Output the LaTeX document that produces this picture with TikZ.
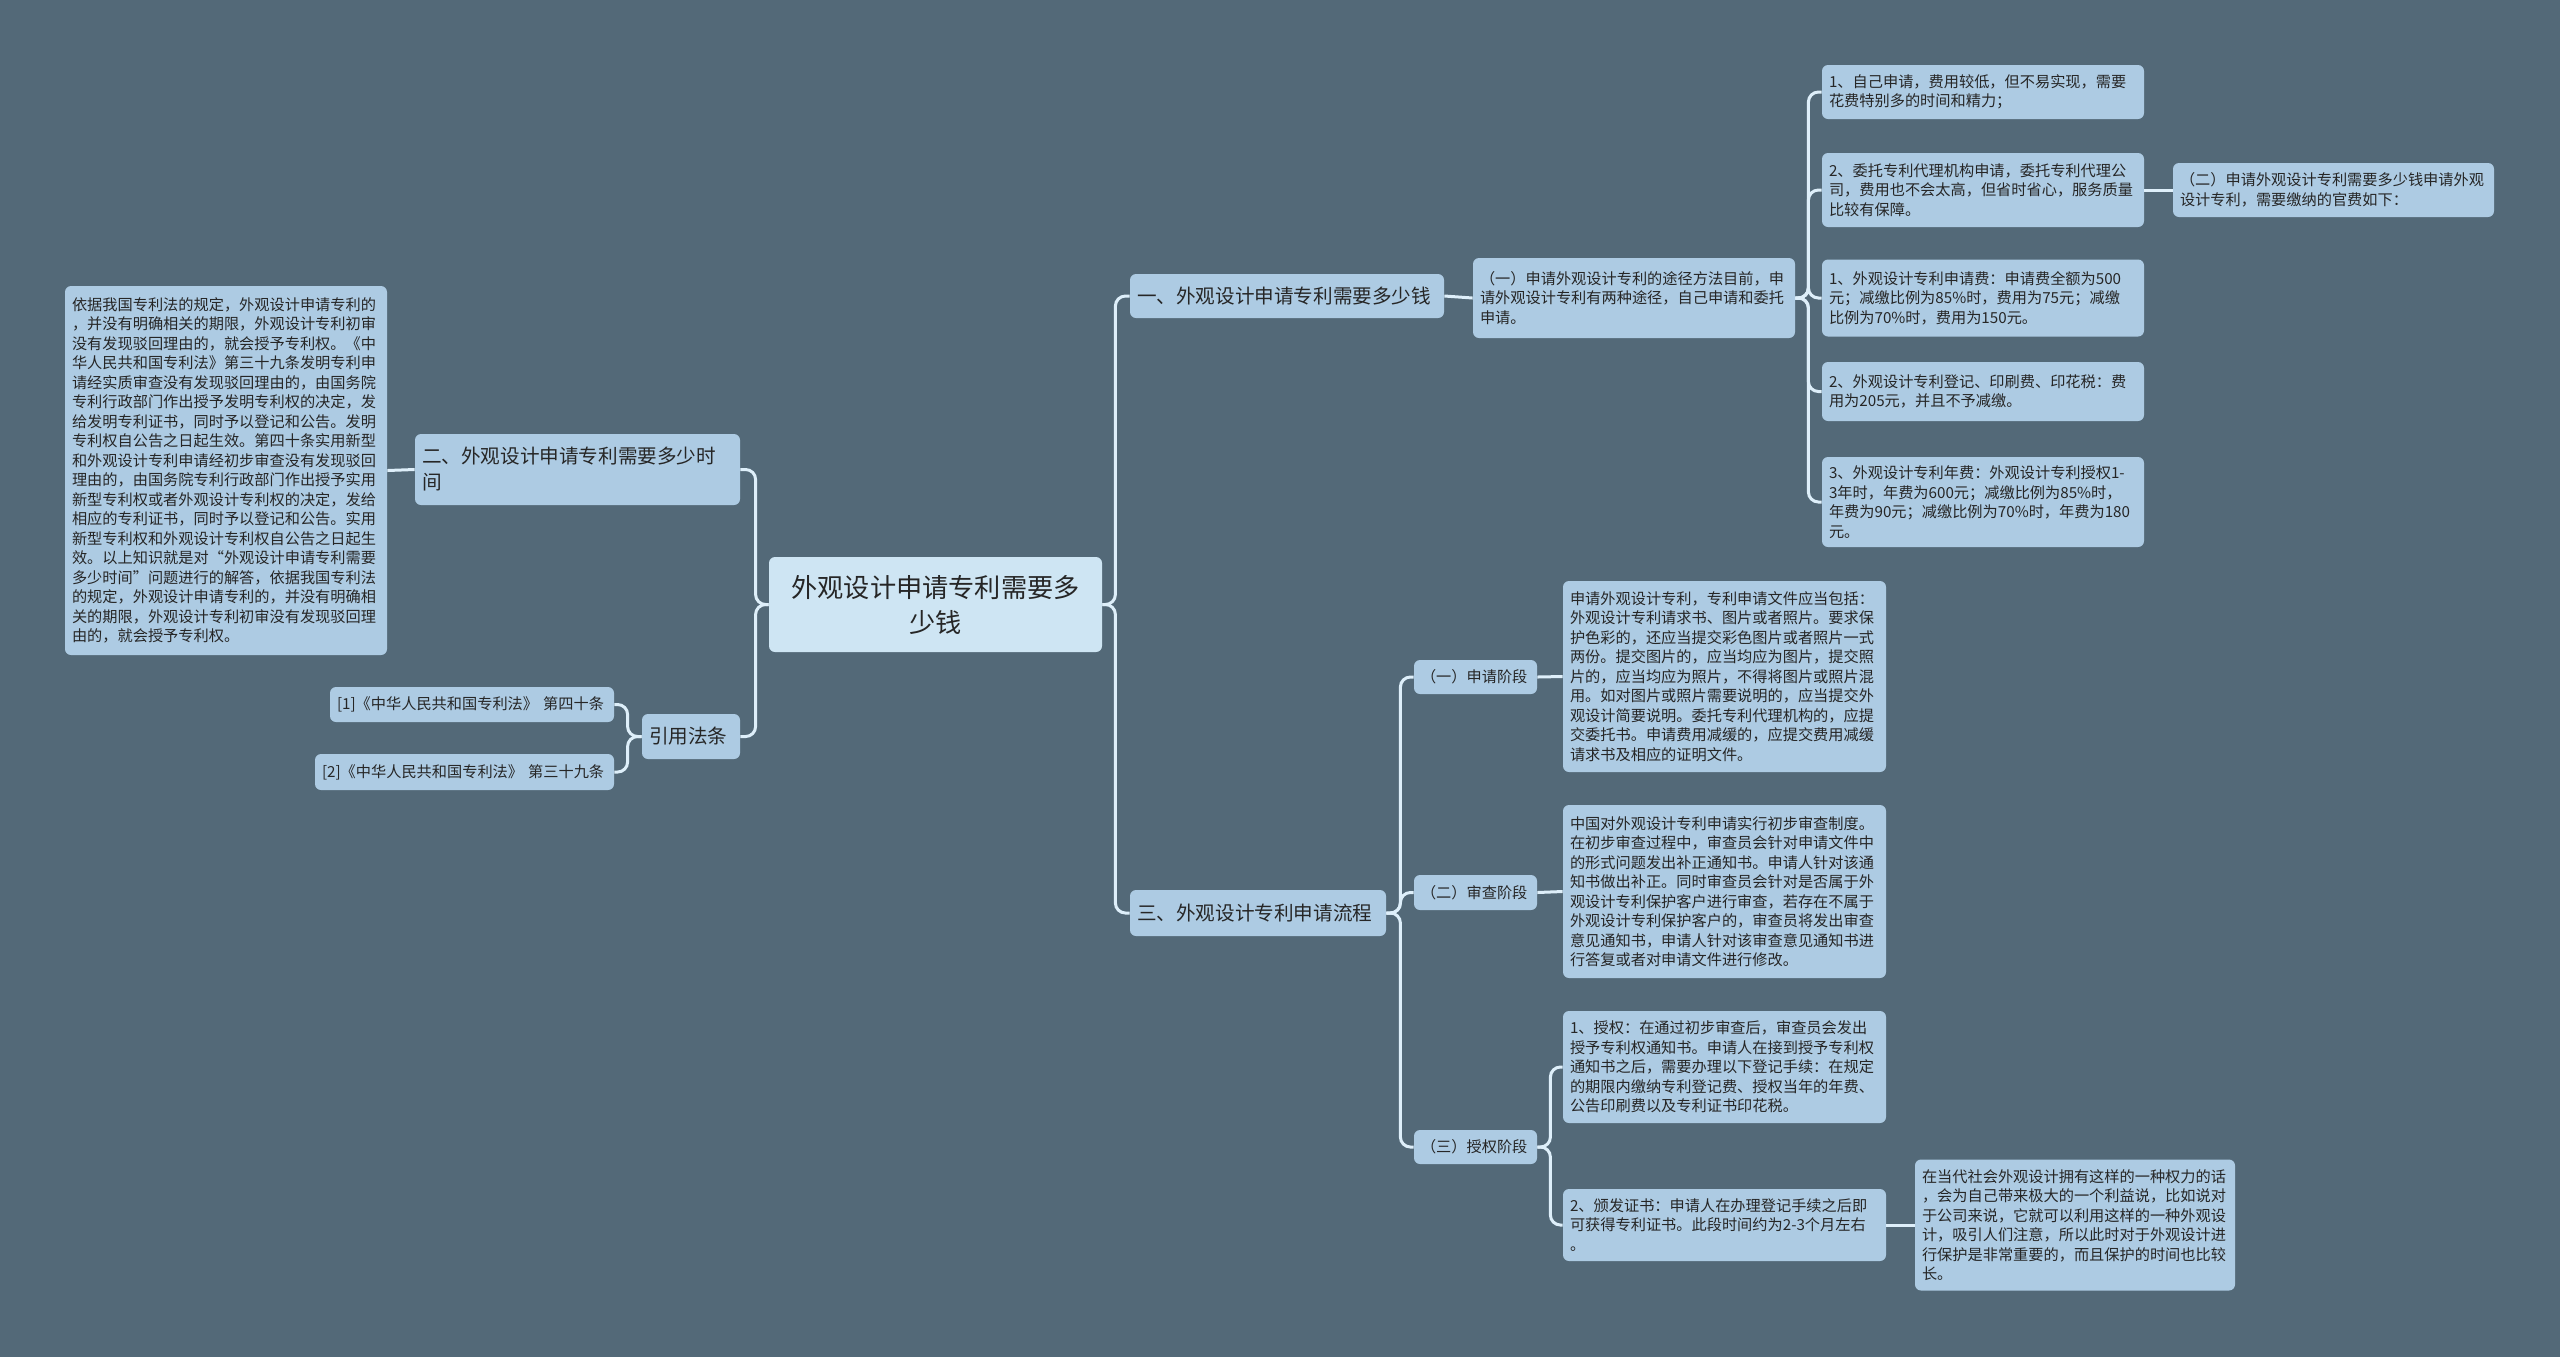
\documentclass[tikz,border=0pt]{standalone}
\usepackage{fontspec}
\setmainfont{Noto Sans CJK SC}
\usepackage{xcolor}

\definecolor{bgcol}{RGB}{83,105,120}
\definecolor{boxcol}{RGB}{173,203,227}
\definecolor{rootcol}{RGB}{206,229,243}
\definecolor{linkcol}{RGB}{222,239,250}
\definecolor{txtcol}{RGB}{38,38,38}

\tikzset{
  box/.style={fill=boxcol, text=txtcol, rounded corners=3pt, inner xsep=3.5pt, inner ysep=2pt, align=left},
  rootbox/.style={box, fill=rootcol, align=center, font=\fontsize{13.1pt}{17.5pt}\selectfont},
  topicbox/.style={box, font=\fontsize{9.8pt}{13pt}\selectfont},
  leafbox/.style={box, text width=154pt, font=\fontsize{7.6pt}{9.75pt}\selectfont},
  link/.style={draw=linkcol, line width=1.5pt, rounded corners=5pt},
}

\begin{document}
\begin{tikzpicture}[x=0.5pt,y=-0.5pt]
    \fill[bgcol] (0,0) rectangle (2560,1357);
    \useasboundingbox (0,0) rectangle (2560,1357);

    % centre
    \node[rootbox, text width=159.5pt, minimum height=47.5pt] (root) at (935.5,604.5) {外观设计申请专利需要多\\少钱};

    % left side
    \node[topicbox, text width=155.5pt, minimum height=35.5pt] (time) at (577.5,469.5) {二、外观设计申请专利需要多少时\\间};
    \node[leafbox, minimum height=184.5pt] (timeleaf) at (226,470.5) {依据我国专利法的规定，外观设计申请专利的\\，并没有明确相关的期限，外观设计专利初审\\没有发现驳回理由的，就会授予专利权。《中\\华人民共和国专利法》第三十九条发明专利申\\请经实质审查没有发现驳回理由的，由国务院\\专利行政部门作出授予发明专利权的决定，发\\给发明专利证书，同时予以登记和公告。发明\\专利权自公告之日起生效。第四十条实用新型\\和外观设计专利申请经初步审查没有发现驳回\\理由的，由国务院专利行政部门作出授予实用\\新型专利权或者外观设计专利权的决定，发给\\相应的专利证书，同时予以登记和公告。实用\\新型专利权和外观设计专利权自公告之日起生\\效。以上知识就是对“外观设计申请专利需要\\多少时间”问题进行的解答，依据我国专利法\\的规定，外观设计申请专利的，并没有明确相\\关的期限，外观设计专利初审没有发现驳回理\\由的，就会授予专利权。};
    \node[topicbox, text width=42pt, minimum height=22.5pt] (cite) at (691,736.5) {引用法条};
    \node[leafbox, text width=135pt, minimum height=17.5pt] (citea) at (472,704.5) {[1]《中华人民共和国专利法》 第四十条};
    \node[leafbox, text width=142.5pt, minimum height=18pt] (citeb) at (464.5,772) {[2]《中华人民共和国专利法》 第三十九条};

    % right side, part one
    \node[topicbox, text width=150pt, minimum height=22pt] (cost) at (1287,296) {一、外观设计申请专利需要多少钱};
    \node[leafbox, minimum height=40pt] (way) at (1634,298) {（一）申请外观设计专利的途径方法目前，申\\请外观设计专利有两种途径，自己申请和委托\\申请。};
    \node[leafbox, minimum height=27pt] (self) at (1983,92) {1、自己申请，费用较低，但不易实现，需要\\花费特别多的时间和精力；};
    \node[leafbox, minimum height=37pt] (agent) at (1983,190) {2、委托专利代理机构申请，委托专利代理公\\司，费用也不会太高，但省时省心，服务质量\\比较有保障。};
    \node[leafbox, text width=153.5pt, minimum height=27pt] (feehead) at (2333.5,190) {（二）申请外观设计专利需要多少钱申请外观\\设计专利，需要缴纳的官费如下：};
    \node[leafbox, minimum height=38.5pt] (feea) at (1983,298) {1、外观设计专利申请费：申请费全额为500\\元；减缴比例为85\%时，费用为75元；减缴\\比例为70\%时，费用为150元。};
    \node[leafbox, minimum height=29.5pt] (feeb) at (1983,391.5) {2、外观设计专利登记、印刷费、印花税：费\\用为205元，并且不予减缴。};
    \node[leafbox, minimum height=45pt] (feec) at (1983,502) {3、外观设计专利年费：外观设计专利授权1-\\3年时，年费为600元；减缴比例为85\%时，\\年费为90元；减缴比例为70\%时，年费为180\\元。};

    % right side, part three
    \node[topicbox, text width=121pt, minimum height=23pt] (flow) at (1258,913) {三、外观设计专利申请流程};
    \node[leafbox, text width=54.5pt, minimum height=17pt] (apply) at (1475.5,677) {（一）申请阶段};
    \node[leafbox, text width=154.5pt, minimum height=95.5pt] (applyleaf) at (1724.5,676.5) {申请外观设计专利，专利申请文件应当包括：\\外观设计专利请求书、图片或者照片。要求保\\护色彩的，还应当提交彩色图片或者照片一式\\两份。提交图片的，应当均应为图片，提交照\\片的，应当均应为照片，不得将图片或照片混\\用。如对图片或照片需要说明的，应当提交外\\观设计简要说明。委托专利代理机构的，应提\\交委托书。申请费用减缓的，应提交费用减缓\\请求书及相应的证明文件。};
    \node[leafbox, text width=54.5pt, minimum height=17.5pt] (exam) at (1475.5,892.5) {（二）审查阶段};
    \node[leafbox, text width=154.5pt, minimum height=86.5pt] (examleaf) at (1724.5,891.5) {中国对外观设计专利申请实行初步审查制度。\\在初步审查过程中，审查员会针对申请文件中\\的形式问题发出补正通知书。申请人针对该通\\知书做出补正。同时审查员会针对是否属于外\\观设计专利保护客户进行审查，若存在不属于\\外观设计专利保护客户的，审查员将发出审查\\意见通知书，申请人针对该审查意见通知书进\\行答复或者对申请文件进行修改。};
    \node[leafbox, text width=54.5pt, minimum height=17pt] (grant) at (1475.5,1147) {（三）授权阶段};
    \node[leafbox, text width=154.5pt, minimum height=56pt] (granta) at (1724.5,1067) {1、授权：在通过初步审查后，审查员会发出\\授予专利权通知书。申请人在接到授予专利权\\通知书之后，需要办理以下登记手续：在规定\\的期限内缴纳专利登记费、授权当年的年费、\\公告印刷费以及专利证书印花税。};
    \node[leafbox, text width=154.5pt, minimum height=36pt] (grantb) at (1724.5,1225) {2、颁发证书：申请人在办理登记手续之后即\\可获得专利证书。此段时间约为2-3个月左右\\。};
    \node[leafbox, text width=153pt, minimum height=65.5pt] (certleaf) at (2075,1225) {在当代社会外观设计拥有这样的一种权力的话\\，会为自己带来极大的一个利益说，比如说对\\于公司来说，它就可以利用这样的一种外观设\\计，吸引人们注意，所以此时对于外观设计进\\行保护是非常重要的，而且保护的时间也比较\\长。};

    % connectors
    \foreach \c in {time,cite}
        \draw[link] (root.west) -- ++(-13,0) |- (\c.east);
    \foreach \c in {cost,flow}
        \draw[link] (root.east) -- ++(13,0) |- (\c.west);
    \draw[link] (time.west) -- (timeleaf.east);
    \foreach \c in {citea,citeb}
        \draw[link] (cite.west) -- ++(-14,0) |- (\c.east);
    \draw[link] (cost.east) -- (way.west);
    \foreach \c in {self,agent,feea,feeb,feec}
        \draw[link] (way.east) -- ++(13,0) |- (\c.west);
    \draw[link] (agent.east) -- (feehead.west);
    \foreach \c in {apply,exam,grant}
        \draw[link] (flow.east) -- ++(14,0) |- (\c.west);
    \draw[link] (apply.east) -- (applyleaf.west);
    \draw[link] (exam.east) -- (examleaf.west);
    \foreach \c in {granta,grantb}
        \draw[link] (grant.east) -- ++(13,0) |- (\c.west);
    \draw[link] (grantb.east) -- (certleaf.west);
\end{tikzpicture}
\end{document}
